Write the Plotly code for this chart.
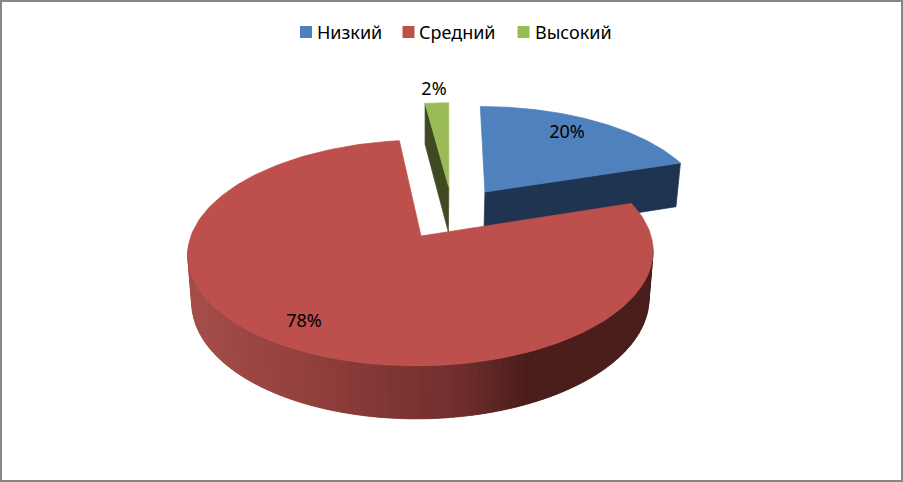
import numpy as np
import plotly.graph_objects as go

categories = ["Низкий", "Средний", "Высокий"]
shares = [20, 78, 2]
face_colors = ["#4f81bd", "#bd4f4c", "#9bbb59"]
cut_colors = ["#1f3450", "#4a1e1c", "#404a22"]
label_screen = [(567, 133), (304, 322), (434, 90)]
key_screen_x = [306, 408.5, 523.5]
key_text_x = [317, 419, 535]
KEY_Y = 32

# Projection of the tilted pie plane onto the chart's axes (units are pixels)
CX, TOP_CY, BOT_CY = 421, 236, 283
TOP_R, BOT_R, TOP_T, BOT_T = 230, 226, 110.4, 115.5
K, SHEAR, EXPLODE = 0.15, 4, 0.2565


def project(x, y, bottom=False):
    x, y = np.asarray(x, float), np.asarray(y, float)
    den = 1 + K * y
    r = BOT_R if bottom else TOP_R
    t = BOT_T if bottom else TOP_T
    c = BOT_CY if bottom else TOP_CY
    return CX + (r * x + SHEAR * y) / den, c - t * y / den


total = sum(shares)
edges = np.cumsum([0] + shares) / total * 2 * np.pi
mids = (edges[:-1] + edges[1:]) / 2
anchor = int(np.argmax(shares))
ox = EXPLODE * (np.sin(mids) - np.sin(mids[anchor]))
oy = EXPLODE * (np.cos(mids) - np.cos(mids[anchor]))


def rim(i, a):
    return ox[i] + np.sin(a), oy[i] + np.cos(a)


fig = go.Figure()


def poly(xs, ys, col, lw=0.7):
    fig.add_trace(go.Scatter(x=np.append(xs, xs[0]), y=np.append(ys, ys[0]), mode="lines",
                             fill="toself", fillcolor=col, line=dict(color=col, width=lw),
                             showlegend=False, hoverinfo="skip"))


def cut_face(i, a):
    px, py = rim(i, a)
    x1, y1 = project([ox[i], px], [oy[i], py])
    x2, y2 = project([px, ox[i]], [py, oy[i]], bottom=True)
    poly(np.r_[x1, x2], np.r_[y1, y2], cut_colors[i])


def top_face(i):
    a = np.linspace(edges[i], edges[i + 1], 200)
    px, py = rim(i, a)
    x, y = project(np.r_[ox[i], px], np.r_[oy[i], py])
    poly(x, y, face_colors[i])


side_stops_x = [185, 330, 450, 515, 660]
side_stops = np.array([[166, 78, 75], [140, 60, 57], [110, 46, 44], [76, 30, 28], [74, 30, 28]])


def side_color(sx):
    return "rgb(%d,%d,%d)" % tuple(np.interp(sx, side_stops_x, side_stops[:, c]) for c in range(3))


def front_side(i):
    a = np.linspace(edges[i], edges[i + 1], 161)
    a = a[np.cos(a) < -0.08]
    for j in range(len(a) - 1):
        p = a[[j, min(j + 2, len(a) - 1)]]  # overlap the next strip so no seams show
        px, py = rim(i, p)
        x1, y1 = project(px, py)
        x2, y2 = project(px[::-1], py[::-1], bottom=True)
        poly(np.r_[x1, x2], np.r_[y1, y2], side_color(x1.min()), lw=0.4)


# Blue slice
cut_face(0, edges[1])
top_face(0)
# Green slice
cut_face(2, edges[2])
top_face(2)
# Red slice
front_side(1)
top_face(1)

fig.add_trace(go.Scatter(x=[p[0] for p in label_screen], y=[p[1] for p in label_screen],
                         mode="text", text=[f"{v}%" for v in shares],
                         textposition="middle center", showlegend=False, hoverinfo="skip",
                         textfont=dict(family="Noto Sans", size=18, color="#000000")))

for name, col, kx in zip(categories, face_colors, key_screen_x):
    fig.add_trace(go.Scatter(x=[kx], y=[KEY_Y], mode="markers", name=name,
                             showlegend=False, hoverinfo="skip",
                             marker=dict(symbol="square", size=12, color=col)))
fig.add_trace(go.Scatter(x=key_text_x, y=[KEY_Y + 2] * len(categories), mode="text", text=categories,
                         textposition="middle right", showlegend=False, hoverinfo="skip",
                         textfont=dict(family="Noto Sans", size=18, color="#000000")))

fig.update_layout(
    width=903, height=482, margin=dict(l=0, r=0, t=0, b=0),
    paper_bgcolor="white", plot_bgcolor="white",
    xaxis=dict(range=[0, 903], visible=False),
    yaxis=dict(range=[482, 0], visible=False),
    shapes=[dict(type="rect", xref="paper", yref="paper", x0=0, x1=1, y0=0, y1=1,
                 line=dict(color="#868686", width=4), layer="above")],
)
fig.write_html("out.html", config={"displayModeBar": False},
               post_script="document.body.style.margin='0';document.body.style.overflow='hidden';")
